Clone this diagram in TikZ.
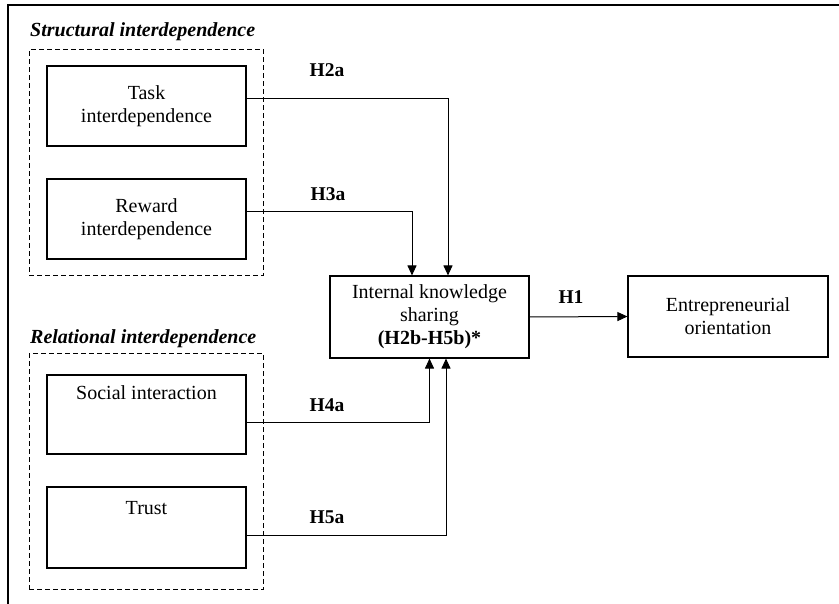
\documentclass[tikz,border=0pt]{standalone}
\usepackage{fontspec}
\setmainfont{Liberation Serif}
\usetikzlibrary{arrows.meta,fit}

\begin{document}
\begin{tikzpicture}[x=1pt,y=-1pt,font=\fontsize{20}{23}\selectfont,
  box/.style={draw,line width=1.1pt,minimum width=199pt,minimum height=80pt,align=center,inner sep=0pt},
  group/.style={draw,line width=1pt,dash pattern=on 5pt off 3pt,inner xsep=17pt},
  grouptitle/.style={anchor=west,inner sep=0pt,font=\fontsize{20}{23}\selectfont\bfseries\itshape},
  hyp/.style={inner sep=0pt,font=\fontsize{19.5}{23}\selectfont\bfseries},
  arr/.style={line width=1pt,-{Triangle[length=10pt,width=9pt]}}]
\useasboundingbox (0,0) rectangle (839,604);
\draw[line width=1.5pt] (8,604) -- (8,5) -- (839,5);

% structural interdependence
\node[grouptitle] (structural) at (30,32) {Structural interdependence};
\node[box] (task) at (146.5,106) {Task\\interdependence};
\node[box] (reward) at (146.5,219) {Reward\\interdependence};
\node[group,inner ysep=16pt,fit=(task)(reward)] (structgroup) {};

% relational interdependence
\node[grouptitle] (relational) at (30,339) {Relational interdependence};
\node[box,minimum height=79pt] (social) at (146.5,414.5) {Social interaction\\[20pt]\mbox{}};
\node[box,minimum height=81pt] (trust) at (146.5,527.5) {Trust\\[16pt]\mbox{}};
\node[group,inner ysep=21pt,fit=(social)(trust)] (relgroup) {};

% mediator and outcome
\node[box,minimum height=82pt] (ks) at (429.5,317) {Internal knowledge\\sharing\\\textbf{(H2b-H5b)*}};
\node[box,minimum width=200pt,minimum height=81pt] (eo) at (728,316.5) {Entrepreneurial\\orientation};

% hypotheses
\node[hyp] (h2a) at (327,70) {H2a};
\node[hyp] (h3a) at (328,194) {H3a};
\node[hyp] (h4a) at (327,405) {H4a};
\node[hyp] (h5a) at (327,517) {H5a};
\node[hyp] (h1) at (571,297) {H1};

\draw[arr] ([yshift=7pt]task.east) -| ([xshift=18.5pt]ks.north);
\draw[arr] ([yshift=7pt]reward.east) -| ([xshift=-17.5pt]ks.north);
\draw[arr] ([yshift=-7.5pt]social.east) -| ([xshift=0pt]ks.south);
\draw[arr] ([yshift=-7.5pt]trust.east) -| ([xshift=16.5pt]ks.south);
\draw[arr] (ks.east) -- (eo.west);
\end{tikzpicture}
\end{document}
